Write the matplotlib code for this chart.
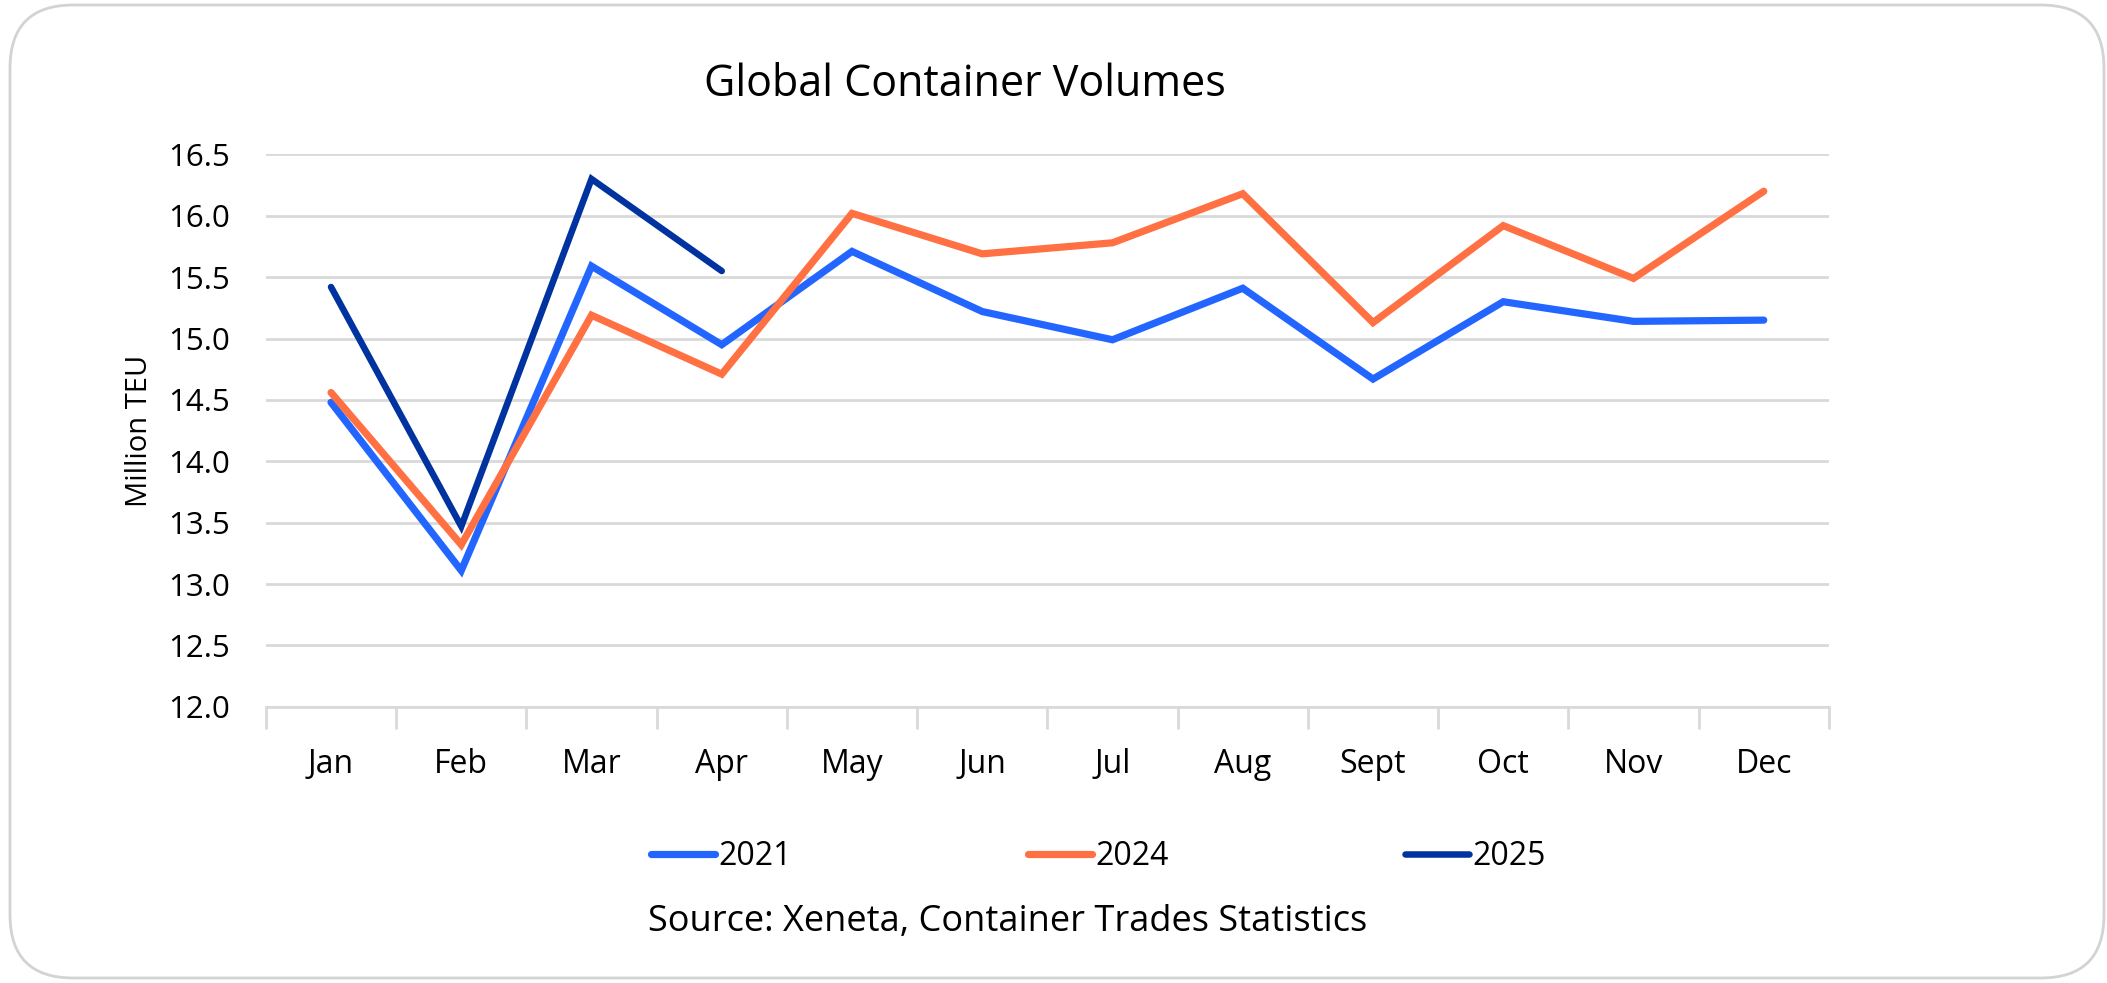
import matplotlib
matplotlib.use("Agg")
import matplotlib.pyplot as plt
from matplotlib.patches import FancyBboxPatch

months = ["Jan", "Feb", "Mar", "Apr", "May", "Jun", "Jul", "Aug", "Sept", "Oct", "Nov", "Dec"]
vol_2021 = [14.48, 13.11, 15.59, 14.95, 15.71, 15.22, 14.99, 15.41, 14.67, 15.30, 15.14, 15.15]
vol_2024 = [14.56, 13.32, 15.19, 14.71, 16.02, 15.69, 15.78, 16.18, 15.13, 15.92, 15.49, 16.20]
vol_2025 = [15.42, 13.47, 16.30, 15.55]
yticks = [12.0, 12.5, 13.0, 13.5, 14.0, 14.5, 15.0, 15.5, 16.0, 16.5]

C21, C24, C25 = "#2266FF", "#FF7043", "#0033A0"
GRID = "#D9D9D9"
plt.rcParams['font.family'] = ['Open Sans', 'DejaVu Sans']

fig = plt.figure(figsize=(21.07, 9.83), dpi=100)
fig.patch.set_facecolor("white")
border = FancyBboxPatch((10 / 2107, 5 / 983), 2094 / 2107, 973 / 983,
                        boxstyle="round,pad=0,rounding_size=0.03",
                        transform=fig.transFigure, facecolor="none",
                        edgecolor="#D3D3D3", linewidth=2.0, mutation_aspect=2107 / 983,
                        zorder=-5)
fig.patches.append(border)

ax = fig.add_axes([0.1262, 0.2810, 0.7418, 0.5619])
ax.set_facecolor("none")
x = list(range(len(months)))
ax.plot(x, vol_2021, color=C21, lw=5.2, label="2021", solid_joinstyle="miter", solid_capstyle="round")
ax.plot(x, vol_2024, color=C24, lw=5.2, label="2024", solid_joinstyle="miter", solid_capstyle="round")
ax.plot(x[:len(vol_2025)], vol_2025, color=C25, lw=4.7, label="2025", solid_joinstyle="miter", solid_capstyle="round")

ax.set_xlim(-0.5, len(months) - 0.5)
ax.set_ylim(12.0, 16.5)
ax.set_yticks(yticks)
ax.set_yticklabels([f"{v:.1f}" for v in yticks], fontsize=22.5)
ax.yaxis.grid(True, color=GRID, lw=2)
ax.set_axisbelow(True)
for s in ["top", "right", "left"]:
    ax.spines[s].set_visible(False)
ax.spines["bottom"].set_color(GRID)
ax.spines["bottom"].set_linewidth(2)
ax.tick_params(axis="y", length=0, pad=26)
ax.set_xticks([i - 0.5 for i in range(len(months) + 1)])
ax.set_xticklabels([])
ax.set_xticks(x, minor=True)
ax.set_xticklabels(months, minor=True, fontsize=23)
ax.tick_params(axis="x", which="major", length=16, width=2, color=GRID)
ax.tick_params(axis="x", which="minor", length=0, pad=30)
ax.set_ylabel("Million TEU", fontsize=21, labelpad=10)

fig.text(0.458, 0.914, "Global Container Volumes", ha="center", va="center", fontsize=31)
fig.legend(loc="center", bbox_to_anchor=(0.5213, 0.129), ncol=3, frameon=False,
           fontsize=23, handlelength=2.0, handletextpad=0.1, columnspacing=7.4)
fig.text(0.478, 0.062, "Source: Xeneta, Container Trades Statistics", ha="center", va="center", fontsize=26)

fig.savefig("out.png", dpi=100, facecolor="white")
